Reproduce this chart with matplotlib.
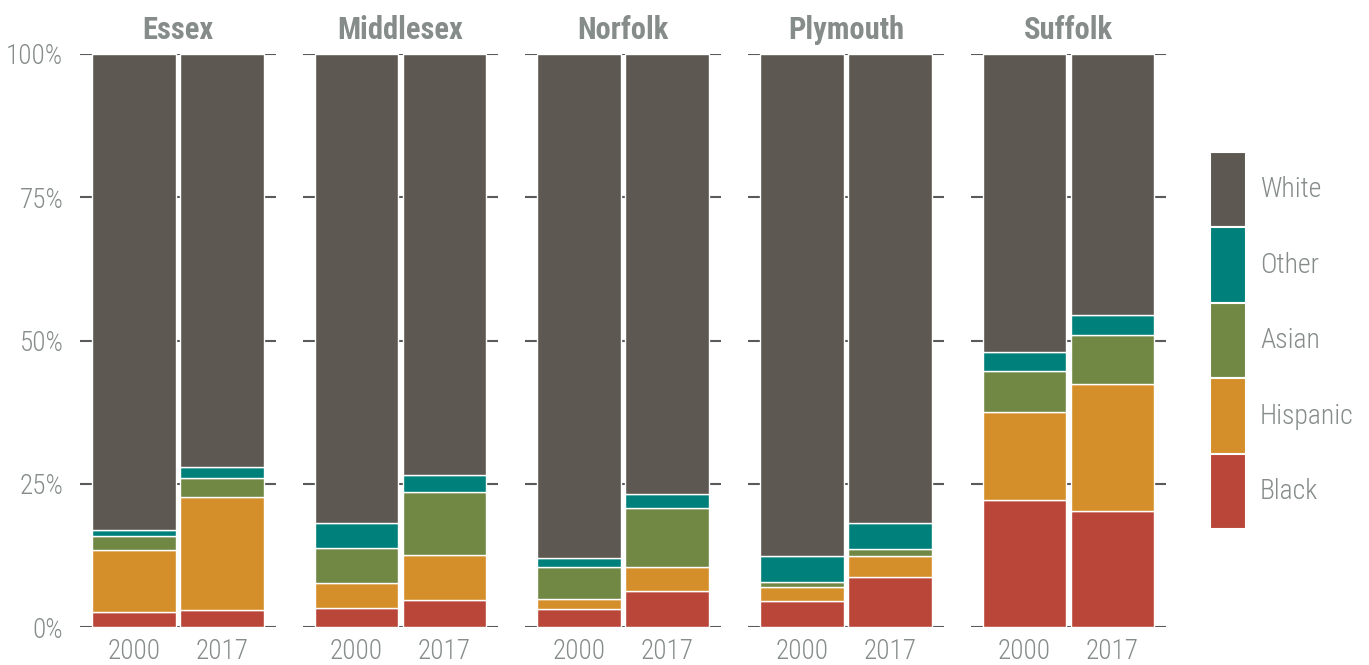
import matplotlib
matplotlib.use("Agg")
import matplotlib.pyplot as plt
from matplotlib.patches import Patch
from matplotlib import font_manager

# pick a narrow face if one is installed, the reference uses a condensed gothic
fams = {f.name for f in font_manager.fontManager.ttflist}
FONT = "DejaVu Sans"
for cand in ("Roboto Condensed", "Liberation Sans Narrow", "Open Sans Condensed"):
    if cand in fams:
        FONT = cand
        break
plt.rcParams["font.family"] = [FONT, "DejaVu Sans"]

counties = ["Essex", "Middlesex", "Norfolk", "Plymouth", "Suffolk"]
years = ["2000", "2017"]
groups = ["Black", "Hispanic", "Asian", "Other", "White"]
# shares in percent, per county: [2000, 2017]
black = [[2.6, 3.0], [3.3, 4.8], [3.1, 6.3], [4.5, 8.7], [22.1, 20.2]]
hispanic = [[10.9, 19.7], [4.3, 7.7], [1.8, 4.2], [2.5, 3.7], [15.5, 22.2]]
asian = [[2.4, 3.3], [6.2, 11.1], [5.6, 10.2], [0.8, 1.2], [7.1, 8.6]]
other = [[1.0, 2.0], [4.3, 3.0], [1.6, 2.6], [4.6, 4.5], [3.3, 3.5]]
white = [[100 - sum(v[i] for v in (b, h, a, o)) for i in range(2)]
         for b, h, a, o in zip(black, hispanic, asian, other)]
series = [black, hispanic, asian, other, white]
colors = ["#b94639", "#d48f2a", "#718844", "#00807a", "#5d5952"]

TEXT = "#858c8a"
GRID = "#5a5a5a"

fig, axes = plt.subplots(1, 5, figsize=(13.69, 6.65), dpi=100, sharey=True)
fig.subplots_adjust(left=0.0584, right=0.852, bottom=0.0571, top=0.9188, wspace=0.138)

x = [0, 1]
for k, (ax, name) in enumerate(zip(axes, counties)):
    bottom = [0, 0]
    for vals, c in zip(series, colors):
        v = vals[k]
        ax.bar(x, v, bottom=bottom, width=0.95, color=c, edgecolor="white",
               linewidth=1.0, zorder=3)
        bottom = [bottom[i] + v[i] for i in range(2)]
    ax.set_xlim(-0.61, 1.61)
    ax.set_ylim(0, 100)
    ax.set_yticks([0, 25, 50, 75, 100])
    ax.yaxis.grid(True, color=GRID, linewidth=1.5, zorder=0)
    ax.set_axisbelow(True)
    ax.set_xticks(x)
    ax.set_xticklabels(years)
    ax.tick_params(length=0, labelsize=19.5, colors=TEXT, pad=8)
    for lab in ax.get_xticklabels() + ax.get_yticklabels():
        lab.set_fontweight("light")
    for s in ax.spines.values():
        s.set_visible(False)
    ax.set_title(name, fontsize=22, fontweight="bold", color=TEXT, pad=11)

axes[0].set_yticklabels(["0%", "25%", "50%", "75%", "100%"], fontweight="light")
axes[0].tick_params(axis="y", pad=12)

handles = [Patch(facecolor=c, edgecolor="white", linewidth=1.5, label=g)
           for g, c in zip(groups, colors)][::-1]
leg = fig.legend(handles=handles, loc="upper left", bbox_to_anchor=(0.8839, 0.7714),
                 frameon=False, fontsize=20, handleheight=3.8, handlelength=1.3,
                 labelspacing=0, handletextpad=0.5, borderpad=0, borderaxespad=0)
for t in leg.get_texts():
    t.set_color(TEXT)
    t.set_fontweight("light")

fig.savefig("out.png", dpi=100)
